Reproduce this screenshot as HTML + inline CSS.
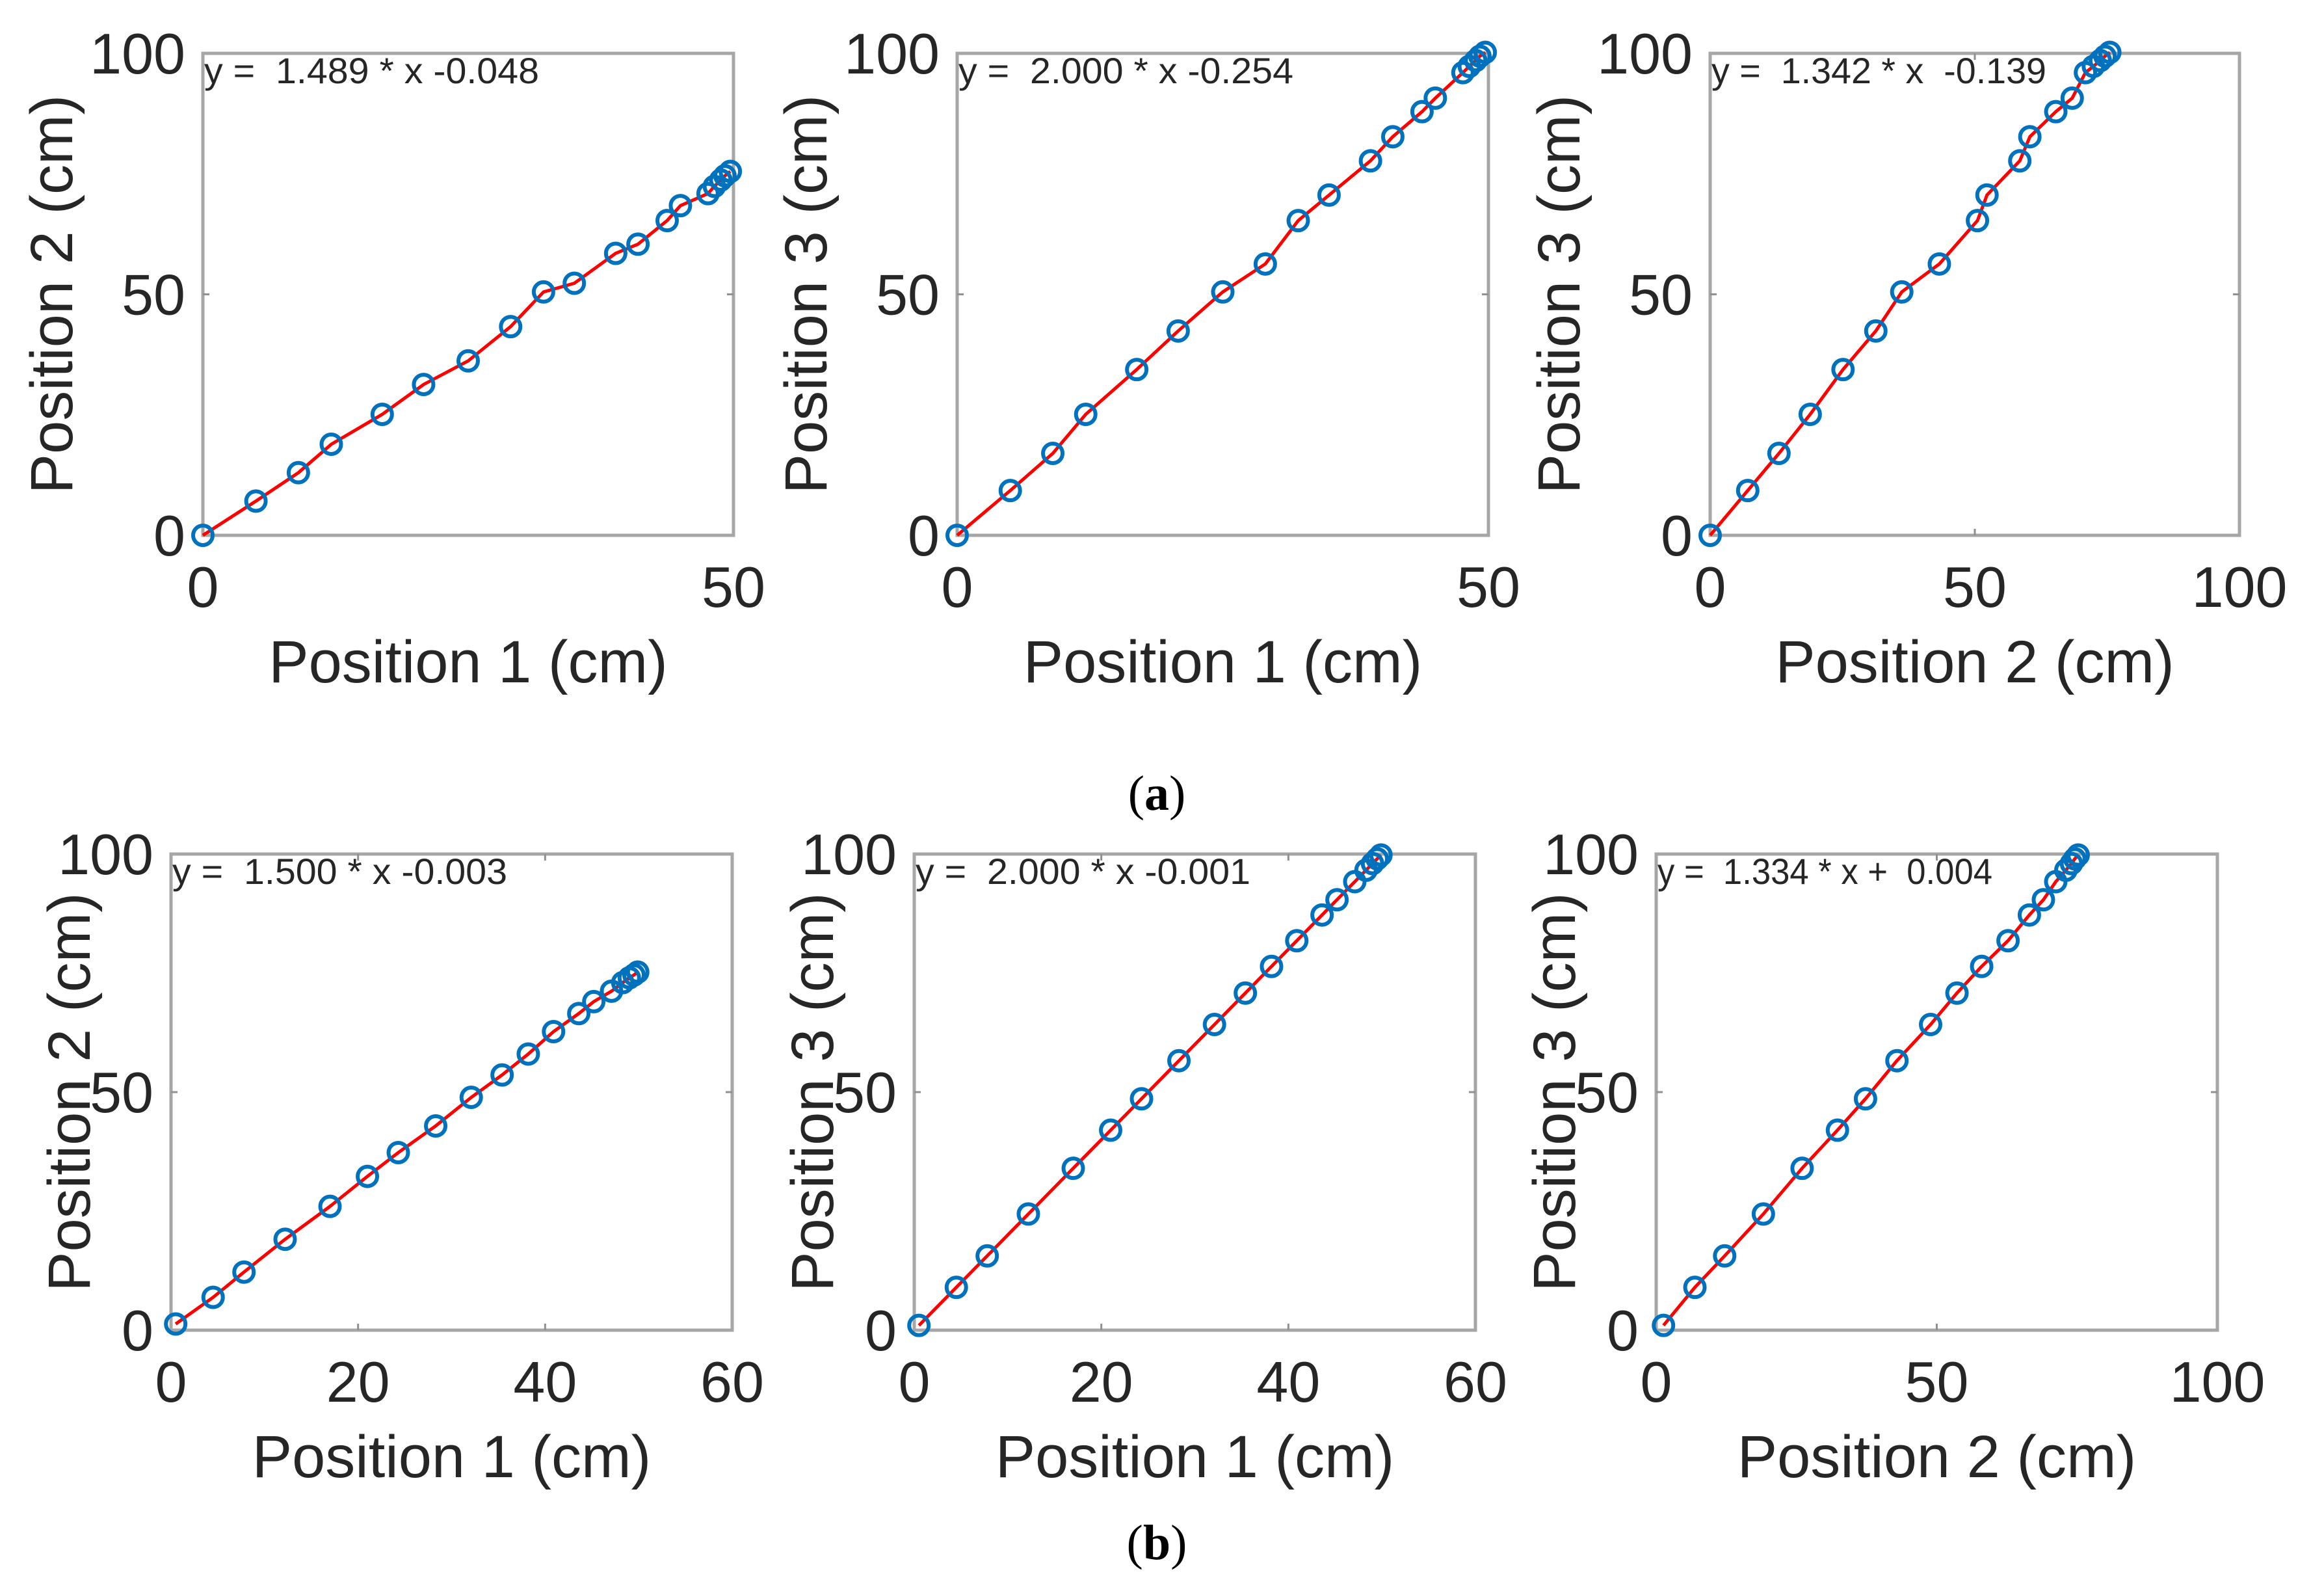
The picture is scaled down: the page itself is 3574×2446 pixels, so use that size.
<!DOCTYPE html>
<html><head><meta charset="utf-8"><style>
html,body{margin:0;padding:0;background:#fff;}
svg{display:block;}
text{font-family:"Liberation Sans",Arial,sans-serif;fill:#262626;}
.eq{white-space:pre;}
</style></head><body>
<svg id="fig" width="3574" height="2446" viewBox="0 0 3574 2446" xmlns="http://www.w3.org/2000/svg">
<text x="1779" y="1245" text-anchor="middle" style="font-family:'Liberation Serif',serif;font-size:76px;fill:#000">(<tspan font-weight="bold">a</tspan>)</text>
<text x="1779" y="2397" text-anchor="middle" style="font-family:'Liberation Serif',serif;font-size:76px;fill:#000">(<tspan font-weight="bold">b</tspan>)</text>
</svg>
<script>
// Row (a) measurements (cm)
const posA1 = [0, 5.0, 9.0, 12.1, 16.9, 20.8, 25.0, 29.0, 32.1, 35.0, 38.9, 41.0, 43.75, 45.0, 47.6, 48.2, 48.8, 49.2, 49.7];
const posA2 = [0, 7.1, 13.0, 18.9, 25.1, 31.3, 36.2, 43.3, 50.5, 52.3, 58.5, 60.4, 65.3, 68.4, 70.9, 72.4, 73.7, 74.6, 75.5];
const posA3 = [0, 9.3, 17.0, 25.1, 34.4, 42.4, 50.5, 56.3, 65.3, 70.6, 77.7, 82.7, 87.9, 90.7, 96.0, 97.3, 98.5, 99.4, 100.2];
// Row (b) measurements (cm)
const posB1 = [0.5, 4.5, 7.8, 12.2, 17.0, 21.0, 24.3, 28.3, 32.1, 35.4, 38.2, 40.9, 43.6, 45.2, 47.1, 48.3, 49.0, 49.5, 49.9];
const posB2 = [1.3, 6.9, 12.2, 19.1, 26.0, 32.3, 37.3, 42.9, 48.9, 53.6, 58.0, 62.7, 66.5, 69.0, 71.2, 73.0, 74.0, 74.6, 75.2];
const posB3 = [1.0, 9.0, 15.6, 24.4, 34.0, 42.0, 48.6, 56.6, 64.2, 70.8, 76.4, 81.8, 87.2, 90.4, 94.2, 96.6, 98.0, 99.0, 99.8];
const xTicksA12 = [0, 50];
const xTicksA3 = [0, 50, 100];
const xTicksB12 = [0, 20, 40, 60];
const xTicksB3 = [0, 50, 100];
const yTicks = [0, 50, 100];
const equations = ["y =  1.489 * x -0.048","y =  2.000 * x -0.254","y =  1.342 * x  -0.139",
                   "y =  1.500 * x -0.003","y =  2.000 * x -0.001","y =  1.334 * x +  0.004"];

const panels = [
 {id:'a1', xs:posA1, ys:posA2, xmax:50, xt:xTicksA12, xl:'Position 1 (cm)', yl:'Position 2 (cm)', eq:0, L:312, R:1128, T:82, B:823, yoff:232},
 {id:'a2', xs:posA1, ys:posA3, xmax:50, xt:xTicksA12, xl:'Position 1 (cm)', yl:'Position 3 (cm)', eq:1, L:1472, R:2289, T:82, B:823, yoff:232},
 {id:'a3', xs:posA2, ys:posA3, xmax:100, xt:xTicksA3, xl:'Position 2 (cm)', yl:'Position 3 (cm)', eq:2, L:2630, R:3444, T:82, B:823, yoff:232},
 {id:'b1', xs:posB1, ys:posB2, xmax:60, xt:xTicksB12, xl:'Position 1 (cm)', yl:'Position 2 (cm)', eq:3, L:263, R:1126, T:1313, B:2045, yoff:156},
 {id:'b2', xs:posB1, ys:posB3, xmax:60, xt:xTicksB12, xl:'Position 1 (cm)', yl:'Position 3 (cm)', eq:4, L:1406, R:2269, T:1313, B:2045, yoff:156},
 {id:'b3', xs:posB2, ys:posB3, xmax:100, xt:xTicksB3, xl:'Position 2 (cm)', yl:'Position 3 (cm)', eq:5, L:2547, R:3410, T:1313, B:2045, yoff:156}
];
const NS='http://www.w3.org/2000/svg';
const svg=document.getElementById('fig');
function mk(tag, attrs, parent){const e=document.createElementNS(NS,tag);for(const k in attrs)e.setAttribute(k,attrs[k]);(parent||svg).appendChild(e);return e;}
panels.forEach(p=>{
  const g=mk('g',{});
  
  
  const sx=v=>p.L+(v/p.xmax)*(p.R-p.L);
  const sy=v=>p.B-(v/100)*(p.B-p.T);
  const box=mk('rect',{x:p.L,y:p.T,width:p.R-p.L,height:p.B-p.T,fill:'none',stroke:'#a6a6a6','stroke-width':5},g);
  
  
  yTicks.forEach(v=>{
    const y=sy(v);
    if(v>0&&v<100){
      mk('line',{x1:p.L,y1:y,x2:p.L+10,y2:y,stroke:'#909090','stroke-width':3},g);
      mk('line',{x1:p.R,y1:y,x2:p.R-10,y2:y,stroke:'#909090','stroke-width':3},g);
    }
    const t=mk('text',{x:p.L-27,y:y+31,'text-anchor':'end','font-size':88},g);
    t.textContent=v;
    
    
  });
  p.xt.forEach(v=>{
    const x=sx(v);
    if(v>0&&v<p.xmax){
      mk('line',{x1:x,y1:p.B,x2:x,y2:p.B-10,stroke:'#909090','stroke-width':3},g);
      mk('line',{x1:x,y1:p.T,x2:x,y2:p.T+10,stroke:'#909090','stroke-width':3},g);
    }
    const t=mk('text',{x:x,y:p.B+110,'text-anchor':'middle','font-size':88},g);
    t.textContent=v;
    
    
  });
  const xt=mk('text',{x:(p.L+p.R)/2,y:p.B+226,'text-anchor':'middle','font-size':92},g);
  xt.textContent=p.xl;
  
  
  const cy=(p.T+p.B)/2, cx=p.L-p.yoff;
  const yt=mk('text',{x:cx,y:cy,'text-anchor':'middle','dominant-baseline':'central','font-size':92,transform:`rotate(-90 ${cx} ${cy})`},g);
  yt.textContent=p.yl;
  
  
  const eq=mk('text',{x:p.L+2,y:p.T+46,'font-size':56,'class':'eq',textLength:515,lengthAdjust:'spacingAndGlyphs'},g);
  eq.textContent=equations[p.eq];
  
  
  const pts=p.xs.map((v,i)=>sx(v).toFixed(1)+','+sy(p.ys[i]).toFixed(1)).join(' ');
  const line=mk('polyline',{points:pts,fill:'none',stroke:'#ff0000','stroke-width':5},g);
  
  
  p.xs.forEach((v,i)=>{
    const c=mk('circle',{cx:sx(v),cy:sy(p.ys[i]),r:15,fill:'none',stroke:'#0072BD','stroke-width':6},g);
    
    
  });
});
</script>
</body></html>
